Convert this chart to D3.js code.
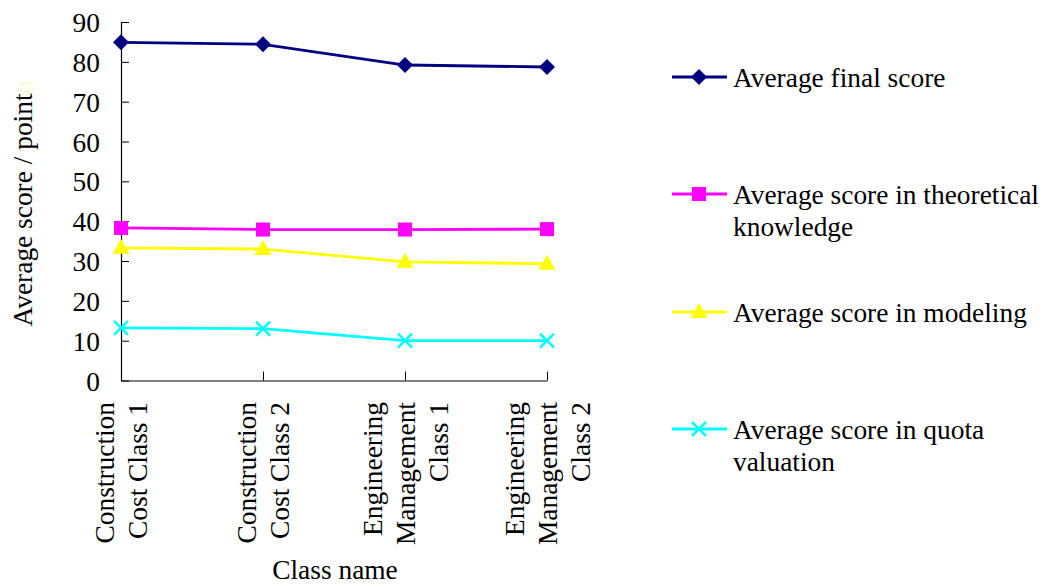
<!DOCTYPE html>
<html><head><meta charset="utf-8">
<script src="https://cdn.jsdelivr.net/npm/d3@7"></script>
<style>body{margin:0;background:#fff}svg{display:block}</style>
</head><body><svg id="c" width="1042" height="585"></svg>
<script>
const categories = [["Construction","Cost Class 1"],["Construction","Cost Class 2"],["Engineering","Management","Class 1"],["Engineering","Management","Class 2"]];
const seriesNames = [["Average final score"],["Average score in theoretical","knowledge"],["Average score in modeling"],["Average score in quota","valuation"]];
const finalScore = [84.9, 84.4, 79.2, 78.7];
const theoryScore = [38.3, 37.9, 37.9, 38.0];
const modelingScore = [33.3, 33.0, 29.8, 29.3];
const quotaScore = [13.2, 13.0, 10.0, 10.0];
const yTicks = [0,10,20,30,40,50,60,70,80,90];
const colors = ["#000080","#ff00ff","#ffff00","#00ffff"];
const markers = ["diamond","square","triangle","cross"];
const allSeries = [finalScore, theoryScore, modelingScore, quotaScore];
const FONT = '"Liberation Serif"';
const FS = "27.4px";

const svg = d3.select("#c");
const x = d3.scalePoint().domain(d3.range(categories.length)).range([121,547]).padding(0);
const y = d3.scaleLinear().domain([0,90]).range([380.5,22]);

function txt(sel){ return sel.style("font-family",FONT).style("font-size",FS).style("fill","#000"); }

// axes
const yAxis = svg.append("g").attr("transform","translate(121,0)")
  .call(d3.axisLeft(y).tickValues(yTicks).tickSizeInner(-8).tickSizeOuter(0).tickPadding(21));
yAxis.select(".domain").attr("stroke","#000").attr("stroke-width",1.2);
yAxis.selectAll(".tick line").attr("stroke","#000");
txt(yAxis.selectAll(".tick text")).attr("dy","0.35em");

const xAxis = svg.append("g").attr("transform","translate(0,380.5)")
  .call(d3.axisBottom(x).tickSizeInner(-9).tickSizeOuter(0).tickFormat(""));
xAxis.select(".domain").attr("stroke","#000").attr("stroke-width",1.2);
xAxis.selectAll(".tick line").attr("stroke","#000");

// category labels (rotated)
categories.forEach((lines,i)=>{
  const n = lines.length, lh = 33;
  lines.forEach((t,j)=>{
    const cx = x(i) + (j-(n-1)/2)*lh;
    txt(svg.append("text")).attr("transform",`translate(${cx},402) rotate(-90)`)
      .attr("text-anchor","end").attr("dy","0.35em").text(t);
  });
});

// axis titles
txt(svg.append("text")).attr("x",335).attr("y",579).attr("text-anchor","middle").text("Class name");
const yl = txt(svg.append("text")).attr("transform","translate(22,204) rotate(-90)").attr("text-anchor","middle").attr("dy","0.35em");
yl.append("tspan").text("Average score / point");
yl.append("tspan").style("fill","#fff6c0").style("font-size","18px").text("()");

function drawMarker(g,type,cx,cy,color){
  if(type==="diamond"){
    g.append("path").attr("d",`M${cx},${cy-8}L${cx+8},${cy}L${cx},${cy+8}L${cx-8},${cy}Z`).attr("fill",color);
  } else if(type==="square"){
    g.append("rect").attr("x",cx-7).attr("y",cy-7).attr("width",14).attr("height",14).attr("fill",color);
  } else if(type==="triangle"){
    g.append("path").attr("d",`M${cx},${cy-9}L${cx+8.5},${cy+6}L${cx-8.5},${cy+6}Z`).attr("fill",color);
  } else {
    g.append("path").attr("d",`M${cx-7},${cy-7}L${cx+7},${cy+7}M${cx+7},${cy-7}L${cx-7},${cy+7}`).attr("stroke",color).attr("stroke-width",2.5);
  }
}

const line = d3.line().x((d,i)=>x(i)).y(d=>y(d));
allSeries.forEach((vals,k)=>{
  const g = svg.append("g");
  g.append("path").attr("d",line(vals)).attr("fill","none").attr("stroke",colors[k]).attr("stroke-width",2.8);
  vals.forEach((v,i)=>drawMarker(g,markers[k],x(i),y(v),colors[k]));
});

// legend
const legY = [77,194,312,429];
seriesNames.forEach((lines,k)=>{
  const g = svg.append("g");
  g.append("line").attr("x1",672).attr("x2",727).attr("y1",legY[k]).attr("y2",legY[k]).attr("stroke",colors[k]).attr("stroke-width",2.8);
  drawMarker(g,markers[k],699,legY[k],colors[k]);
  lines.forEach((t,j)=>{
    txt(g.append("text")).attr("x",733).attr("y",legY[k]+j*32).attr("dy","0.35em").text(t);
  });
});
</script></body></html>
